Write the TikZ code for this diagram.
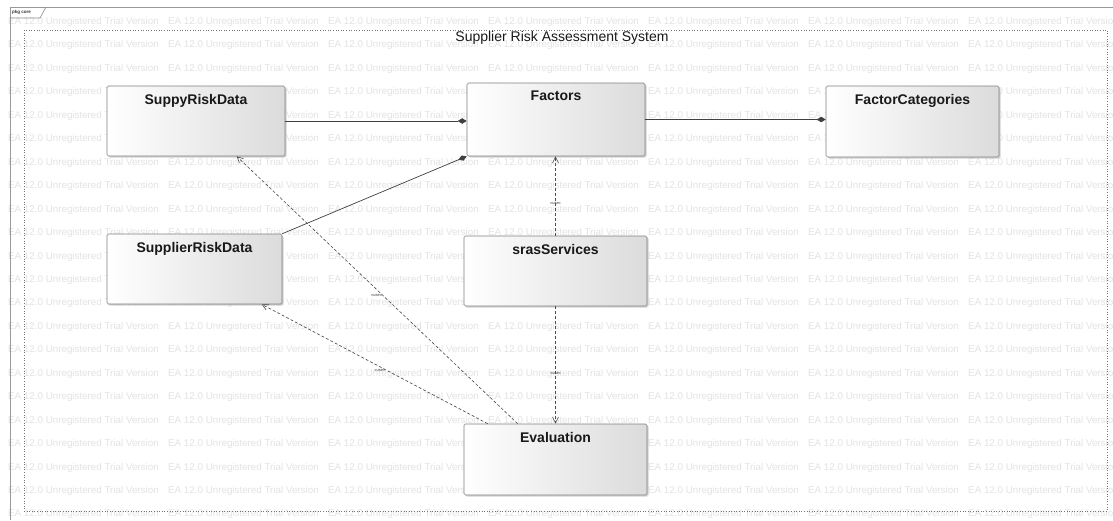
\documentclass[tikz,border=0pt]{standalone}
\usepackage{fontspec}
\setmainfont{Liberation Sans}
\usetikzlibrary{arrows.meta,shadows,calc}
\begin{document}
\begin{tikzpicture}[x=1pt,y=-1pt,
  wmark/.style={anchor=west,inner sep=0pt,text=black!11,font=\fontsize{9.8}{10}\selectfont},
  classbox/.style={draw=black!50,line width=0.6pt,rounded corners=1.5pt,
     left color=white,middle color=black!4,right color=black!14,
     drop shadow={shadow xshift=1.5pt,shadow yshift=-1.5pt,fill=black!35,opacity=0.5},
     minimum width=178pt,minimum height=71pt,inner sep=0pt},
  ctitle/.style={anchor=north,inner sep=0pt,yshift=-8pt,font=\fontsize{14}{16}\selectfont\bfseries,text=black!90},
  comp/.style={draw=black!75,line width=0.7pt,-{Diamond[length=9pt,width=5.5pt]}},
  dep/.style={draw=black!70,line width=0.6pt,dash pattern=on 3pt off 2pt,-{Straight Barb[length=6pt,width=6pt]}},
  uselbl/.style={inner sep=0.5pt,font=\fontsize{4}{4}\selectfont,text=black!80}]
\useasboundingbox (0,0) rectangle (1113,520);
\fill[white] (0,0) rectangle (1113,520);
% watermark
\foreach \r in {0,...,21}{
  \foreach \c in {0,...,6}{
    \node[wmark] (wm-\r-\c) at (8+160*\c, 22+23.45*\r) {EA 12.0 Unregistered Trial Version};
  }
}
% outer frame and tab
\draw[black!40,line width=0.8pt] (10,520) -- (10,7) -- (1113,7);
\draw[black!45,line width=0.6pt] (10,18) -- (40,18) -- (46,7);
\node[anchor=west,inner sep=0pt,font=\fontsize{4.5}{5}\selectfont\bfseries,text=black!80] (tab) at (12,12) {pkg core};
% inner dotted frame
\draw[black!55,line width=0.6pt,dotted] (24,30) rectangle (1107,511);
\node[font=\fontsize{14}{16}\selectfont,text=black!90] (sys) at (562,38) {Supplier Risk Assessment System};
% classes
\node[classbox,minimum width=178pt,minimum height=70pt] (srd1) at (196,121) {};
\node[ctitle] (srd1t) at (srd1.north) {SuppyRiskData};
\node[classbox,minimum width=178pt,minimum height=73pt] (fac) at (556,119.5) {};
\node[ctitle] (fact) at (fac.north) {Factors};
\node[classbox,minimum width=173pt,minimum height=71pt] (fc) at (912.5,121.5) {};
\node[ctitle] (fct) at (fc.north) {FactorCategories};
\node[classbox,minimum width=175pt,minimum height=70pt] (srd2) at (194.5,269) {};
\node[ctitle] (srd2t) at (srd2.north) {SupplierRiskData};
\node[classbox,minimum width=183pt,minimum height=70pt] (sras) at (555.5,271) {};
\node[ctitle] (srast) at (sras.north) {srasServices};
\node[classbox,minimum width=183pt,minimum height=71pt] (ev) at (555.5,459.5) {};
\node[ctitle] (evt) at (ev.north) {Evaluation};
% compositions
\draw[comp] (srd1.east) -- (srd1.east -| fac.west);
\draw[comp] (fac.east) -- (fac.east -| fc.west);
\draw[comp] (srd2.north east) -- (fac.south west);
% dependencies
\draw[dep] ($(ev.north west)+(54,0)$) -- node[uselbl,pos=0.48,left=0pt] (u1) {«use»} ($(srd1.south west)+(130,0)$);
\draw[dep] ($(ev.north west)+(24,0)$) -- node[uselbl,pos=0.45,left=0pt] (u2) {«use»} ($(srd2.south west)+(155,0)$);
\draw[dep] (sras.north) -- node[uselbl,pos=0.41] (u3) {«use»} (sras.north |- fac.south);
\draw[dep] (sras.south) -- node[uselbl,pos=0.57] (u4) {«use»} (ev.north);
\end{tikzpicture}
\end{document}
